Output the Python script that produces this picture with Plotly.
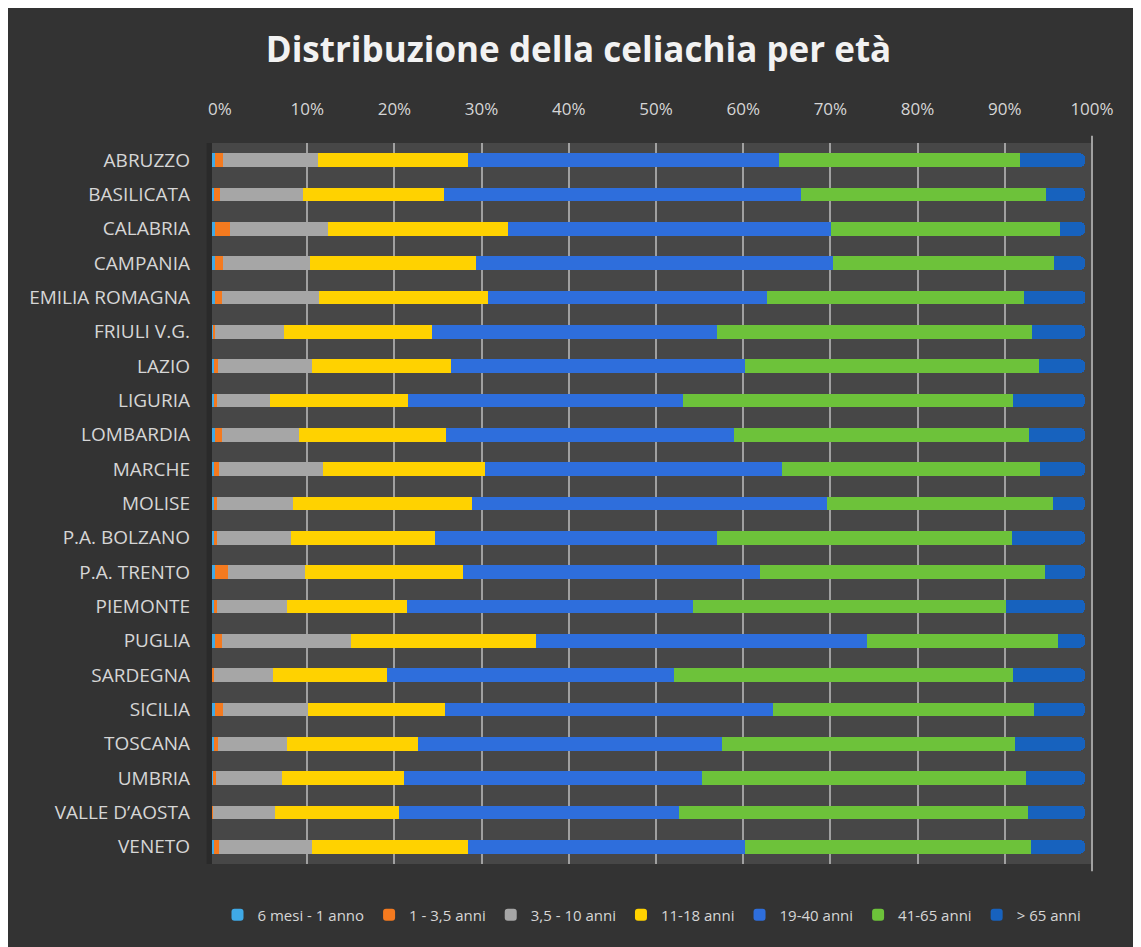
import plotly.graph_objects as go

regioni = ["ABRUZZO", "BASILICATA", "CALABRIA", "CAMPANIA", "EMILIA ROMAGNA", "FRIULI V.G.",
           "LAZIO", "LIGURIA", "LOMBARDIA", "MARCHE", "MOLISE", "P.A. BOLZANO", "P.A. TRENTO",
           "PIEMONTE", "PUGLIA", "SARDEGNA", "SICILIA", "TOSCANA", "UMBRIA", "VALLE D’AOSTA", "VENETO"]

# quote percentuali per fascia d'età
mesi_6_1 = [0.3, 0.2, 0.3, 0.3, 0.3, 0.1, 0.2, 0.2, 0.3, 0.2, 0.2, 0.2, 0.3, 0.2, 0.3, 0.1, 0.3, 0.2, 0.1, 0.0, 0.2]
anni_1_35 = [1.0, 0.7, 1.8, 1.0, 0.9, 0.3, 0.5, 0.4, 0.9, 0.6, 0.4, 0.4, 1.5, 0.4, 0.9, 0.1, 1.0, 0.5, 0.4, 0.1, 0.6]
anni_35_10 = [10.8, 9.5, 11.2, 9.9, 11.0, 7.8, 10.8, 6.0, 8.8, 11.9, 8.7, 8.4, 8.8, 8.0, 14.7, 6.8, 9.7, 7.9, 7.5, 7.1, 10.7]
anni_11_18 = [17.2, 16.2, 20.6, 19.0, 19.4, 17.0, 15.9, 15.8, 16.8, 18.6, 20.5, 16.6, 18.1, 13.7, 21.2, 13.0, 15.7, 15.0, 14.0, 14.2, 17.8]
anni_19_40 = [35.6, 40.9, 37.0, 40.9, 32.0, 32.7, 33.7, 31.6, 33.0, 34.0, 40.7, 32.2, 34.1, 32.8, 37.9, 32.9, 37.6, 34.8, 34.1, 32.1, 31.8]
anni_41_65 = [27.7, 28.0, 26.2, 25.4, 29.4, 36.0, 33.6, 37.7, 33.8, 29.6, 25.8, 33.8, 32.6, 35.9, 21.9, 38.9, 29.9, 33.6, 37.1, 40.0, 32.7]
oltre_65 = [7.4, 4.5, 2.9, 3.5, 7.1, 6.1, 5.3, 8.3, 6.4, 5.1, 3.7, 8.4, 4.6, 9.0, 3.1, 8.2, 5.8, 8.0, 6.8, 6.5, 6.2]

serie = [
    ("6 mesi - 1 anno", mesi_6_1, "#3FA9E6"),
    ("1 - 3,5 anni", anni_1_35, "#F47A1F"),
    ("3,5 - 10 anni", anni_35_10, "#A6A6A6"),
    ("11-18 anni", anni_11_18, "#FFD200"),
    ("19-40 anni", anni_19_40, "#2E6EDC"),
    ("41-65 anni", anni_41_65, "#6DC23A"),
    ("> 65 anni", oltre_65, "#1762BE"),
]

fig = go.Figure()

# asse x principale: solo griglia ed etichette (sfalsato di qualche px, effetto 3D di Excel)
fig.add_trace(go.Scatter(x=[0, 100], y=[regioni[0], regioni[0]], mode="markers",
                         marker=dict(opacity=0), showlegend=False, hoverinfo="skip"))

for nome, valori, colore in serie:
    fig.add_trace(go.Bar(
        y=regioni, x=valori, name=nome, orientation="h", xaxis="x2",
        marker=dict(color=colore, line=dict(width=0)),
        width=0.4,
    ))

testo = "#D6D6D6"
fig.update_layout(
    width=1141, height=947,
    paper_bgcolor="#333333", plot_bgcolor="rgba(0,0,0,0)",
    margin=dict(l=204, r=57, t=135, b=91),
    barmode="stack", barcornerradius=5,
    title=dict(text="<b>Distribuzione della celiachia per età</b>", x=0.5, xanchor="center",
               y=1 - 42 / 947, yanchor="middle",
               font=dict(family="Open Sans", size=35, color="#F2F2F2")),
    font=dict(family="Open Sans", color=testo),
    xaxis=dict(domain=[0.0091, 1], range=[0, 100], side="top",
               dtick=10, ticksuffix="%", showgrid=True, gridcolor="#A0A0A0", gridwidth=2,
               zeroline=False, tickfont=dict(size=17, color=testo), ticklabelstandoff=24),
    xaxis2=dict(domain=[0, 0.992], range=[0, 100], anchor="y", showgrid=False,
                showticklabels=False, zeroline=False),
    yaxis=dict(range=[20.5, -0.5], showgrid=False, zeroline=False, ticks="",
               tickfont=dict(size=19, color=testo), ticklabelstandoff=29),
    legend=dict(orientation="h", x=0.5, xanchor="center", y=40 / 947, yanchor="middle",
                yref="container", font=dict(size=15, color=testo), traceorder="normal",
                itemwidth=30),
    shapes=[
        # sfondo dell'area del grafico
        dict(type="rect", xref="paper", yref="paper", x0=0, x1=1, y0=0, y1=1,
             line=dict(width=0), fillcolor="#474747", layer="below"),
        dict(type="rect", xref="paper", yref="paper", x0=-0.006, x1=0.0, y0=0, y1=1,
             line=dict(width=0), fillcolor="#2A2A2A", layer="below"),
        dict(type="line", xref="paper", yref="paper", x0=1.0, x1=1.0, y0=-0.01, y1=1.01,
             line=dict(color="#A0A0A0", width=2)),
    ],
)

fig.write_html("out.html")
